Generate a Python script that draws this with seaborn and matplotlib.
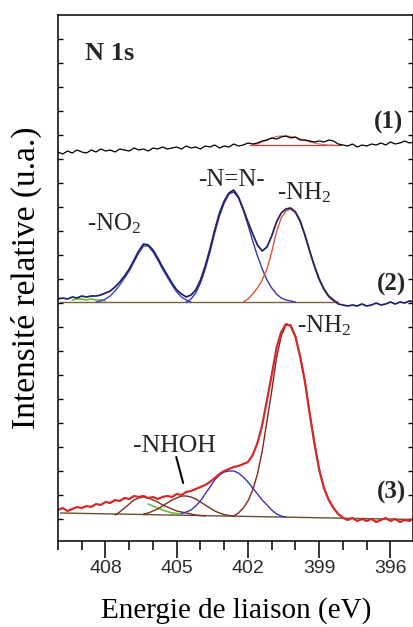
import numpy as np
import matplotlib
matplotlib.use("Agg")
import matplotlib.pyplot as plt
import seaborn as sns
from matplotlib.ticker import FixedLocator, MultipleLocator

# ---------------- data (binding energy grid, eV, step 0.2) ----------------
STEP = 0.2
E_START = 410.0

# spectrum (1) : raw trace (relative intensity)
s1_trace = [-6, -8, -5, -7, -4, -6, -7, -4, -6, -3,
            -5, -4, -6, -3, -4, -5, -2, -4, -3, -5,
            -2, -3, -1, -3, -2, -1, -3, 0, -2, -1,
            -3, 0, -1, 1, -2, 0, -1, 2, 0, 1,
            3, 2, 3, 5, 6, 8, 7, 9, 10, 8,
            9, 6, 6, 5, 4, 5, 4, 6, 5, 2,
            1, 0, 2, -1, 1, 0, 2, 1, 3, 1,
            4, 2, 3, 5, 3, 4]
s1_fit_start = 401.8
s1_fit = [1, 2, 4, 6, 8, 9.5, 10, 10, 9.5, 8.5, 7, 5.5, 4, 3, 2, 1.5, 1, 1]
s1_base_E = [401.9, 398.1]
s1_base_I = [1, 1]

# spectrum (2)
s2_trace = [3, 4, 3, 5, 4, 6, 5, 6, 6, 7,
            9, 11, 15, 20, 26, 33, 42, 51, 58, 57,
            52, 44, 35, 27, 19, 12, 8, 5, 7, 12,
            22, 36, 53, 72, 89, 101, 109, 112, 105, 93,
            80, 68, 57, 51, 55, 66, 80, 89, 93, 94,
            90, 81, 67, 51, 36, 23, 13, 6, 2, -2,
            -3, -4, -3, -4, -2, -4, -3, -1, -3, -2,
            0, -2, 0, -1, 1, 0]
s2_no2_start = 408.4
s2_no2 = [0, 1, 3, 6, 11, 17, 24, 31, 40, 49, 56, 56, 50, 42, 33, 25, 17, 10, 5, 2, 0]
s2_nn_start = 404.6
s2_nn = [0, 3, 9, 19, 33, 50, 69, 86, 99, 108, 110, 104, 92, 77, 61, 46, 33, 22, 14, 8, 4, 2, 1, 0]
s2_nh2_start = 402.2
s2_nh2 = [0, 3, 8, 14, 22, 33, 50, 70, 84, 91, 93, 89, 80, 66, 50, 35, 22, 12, 5, 1, 0]
s2_green_start = 409.4
s2_green = [2, 3, 3, 2, 3, 2, 2, 1]
s2_base_E = [409.9, 398.2]
s2_base_I = [0, 0]

# spectrum (3)
s3_trace = [8, 10, 7, 9, 11, 10, 12, 11, 14, 13,
            16, 15, 18, 17, 20, 19, 22, 21, 22, 20,
            21, 19, 21, 22, 21, 24, 23, 26, 27, 29,
            31, 33, 36, 40, 44, 47, 49, 51, 52, 54,
            56, 63, 75, 93, 118, 143, 170, 186, 194, 192,
            181, 161, 136, 104, 74, 48, 30, 18, 10, 4,
            0, -2, 0, -3, -1, -3, -1, -4, -2, 0,
            -3, -1, -4, -2, -3, 0]
s3_nh2_start = 402.6
s3_nh2 = [2, 5, 10, 17, 28, 44, 67, 97, 127, 160, 182, 193, 193, 182, 162, 137,
          105, 75, 49, 30, 18, 10, 4, 0.5]
s3_nhoh_start = 404.8
s3_nhoh = [4.5, 6, 8, 12, 17, 24, 31, 38, 43, 46, 47, 47, 45, 41, 36, 30, 24, 18,
           13, 8, 4, 2, 1]
s3_a_start = 407.6
s3_a = [3, 6, 10, 14, 18, 20, 21, 20, 18, 16, 13, 11, 9, 7, 6, 5, 4, 3, 2.5, 2]
s3_b_start = 406.4
s3_b = [4, 5, 7, 9, 12, 15, 18, 20, 22, 22, 21, 19, 16, 13, 10, 7, 5, 3.5, 2.5, 2]
s3_green_start = 406.2
s3_green = [14, 12, 10, 8, 6.5, 5, 4.5, 4]
s3_base_E = [409.9, 395.0]
s3_base_I = [5, -1.5]

x_major = [408, 405, 402, 399, 396]
x_major_labels = ["408", "405", "402", "399", "396"]

# ---------------- layout / style ----------------
OFF1, OFF2, OFF3 = 395, 239, 23

sns.set_theme(style="ticks")
plt.rcParams["font.family"] = ["Liberation Serif", "DejaVu Serif"]
plt.rcParams["mathtext.default"] = "regular"

fig = plt.figure(figsize=(4.14, 6.27), dpi=100)
ax = fig.add_axes([58 / 414, 86 / 627, 355.5 / 414, 526 / 627])


def energies(start, n):
    return np.round(start - STEP * np.arange(n), 1)


def draw(E, I, off, color, lw, alpha=1.0):
    sns.lineplot(x=np.asarray(E, float), y=np.asarray(I, float) + off, ax=ax,
                 color=color, linewidth=lw, alpha=alpha, estimator=None,
                 sort=False, legend=False)


grid = energies(E_START, len(s1_trace))

# spectrum 1
draw(s1_base_E, s1_base_I, OFF1, "#c04040", 0.9)
draw(energies(s1_fit_start, len(s1_fit)), s1_fit, OFF1, "#e07070", 0.9)
draw(grid, s1_trace, OFF1, "black", 0.9)

# spectrum 2
BASE = "#7a6440"
draw(s2_base_E, s2_base_I, OFF2, BASE, 1.0)
draw(energies(s2_green_start, len(s2_green)), s2_green, OFF2, "#66c040", 1.2)
draw(energies(s2_no2_start, len(s2_no2)), s2_no2, OFF2, "#4040c0", 1.0)
draw(energies(s2_nn_start, len(s2_nn)), s2_nn, OFF2, "#3535b0", 1.0)
draw(energies(s2_nh2_start, len(s2_nh2)), s2_nh2, OFF2, "#e05535", 1.0)
draw(grid, s2_trace, OFF2, "#24246a", 1.3)

# spectrum 3
draw(s3_base_E, s3_base_I, OFF3, "#6a5030", 1.0)
draw(energies(s3_green_start, len(s3_green)), s3_green, OFF3, "#66c040", 1.2)
draw(energies(s3_a_start, len(s3_a)), s3_a, OFF3, "#7a3020", 1.0)
draw(energies(s3_b_start, len(s3_b)), s3_b, OFF3, "#7a3020", 1.0)
draw(energies(s3_nhoh_start, len(s3_nhoh)), s3_nhoh, OFF3, "#3535b0", 1.0)
draw(energies(s3_nh2_start, len(s3_nh2)), s3_nh2, OFF3, "#8a2020", 1.0)
draw(grid, s3_trace, OFF3, "#d42a2a", 1.6)

# ---------------- axes ----------------
ax.set_xlim(410, 395.03)
ax.set_ylim(0, 526)
ax.xaxis.set_major_locator(FixedLocator(x_major))
ax.set_xticklabels(x_major_labels)
ax.xaxis.set_minor_locator(MultipleLocator(1))
ax.tick_params(axis="x", which="major", direction="out", length=12, width=1.1,
               labelsize=14, pad=2, labelcolor="#2a2a2a", colors="black",
               labelfontfamily="Liberation Sans")
ax.tick_params(axis="x", which="minor", direction="out", length=6.5, width=1.1,
               colors="black")
ax.yaxis.set_major_locator(FixedLocator(np.arange(22, 526, 24)))
ax.set_yticklabels([])
ax.tick_params(axis="y", which="major", direction="in", length=3.6, width=1.0,
               left=True, right=True, colors="black")
for sp in ax.spines.values():
    sp.set_visible(True)
    sp.set_color("black")
    sp.set_linewidth(1.1)

ax.set_xlabel("Energie de liaison (eV)", fontsize=21, labelpad=14, color="black")
ax.set_ylabel("Intensité relative (u.a.)", fontsize=24, labelpad=8, color="black")

# ---------------- annotations ----------------
ax.text(408.86, 481, "N 1s", fontsize=19, fontweight="bold", ha="left", va="baseline")
ax.text(395.45, 419, "(1)", fontsize=18, fontweight="bold", ha="right", va="center")
ax.text(395.35, 257, "(2)", fontsize=18, fontweight="bold", ha="right", va="center")
ax.text(395.35, 49, "(3)", fontsize=18, fontweight="bold", ha="right", va="center")

ax.text(408.78, 311, "-NO$_\\mathregular{2}$", fontsize=18, ha="left", va="baseline")
ax.text(402.70, 355, "-N=N-", fontsize=18, ha="center", va="baseline")
ax.text(400.78, 342, "-NH$_\\mathregular{2}$", fontsize=18, ha="left", va="baseline")
ax.text(399.92, 209, "-NH$_\\mathregular{2}$", fontsize=18, ha="left", va="baseline")
ax.text(406.84, 89, "-NHOH", fontsize=18.5, ha="left", va="baseline")
ax.plot([405.02, 404.73], [84, 58], color="black", linewidth=1.5)

fig.savefig("out.png", dpi=100)
